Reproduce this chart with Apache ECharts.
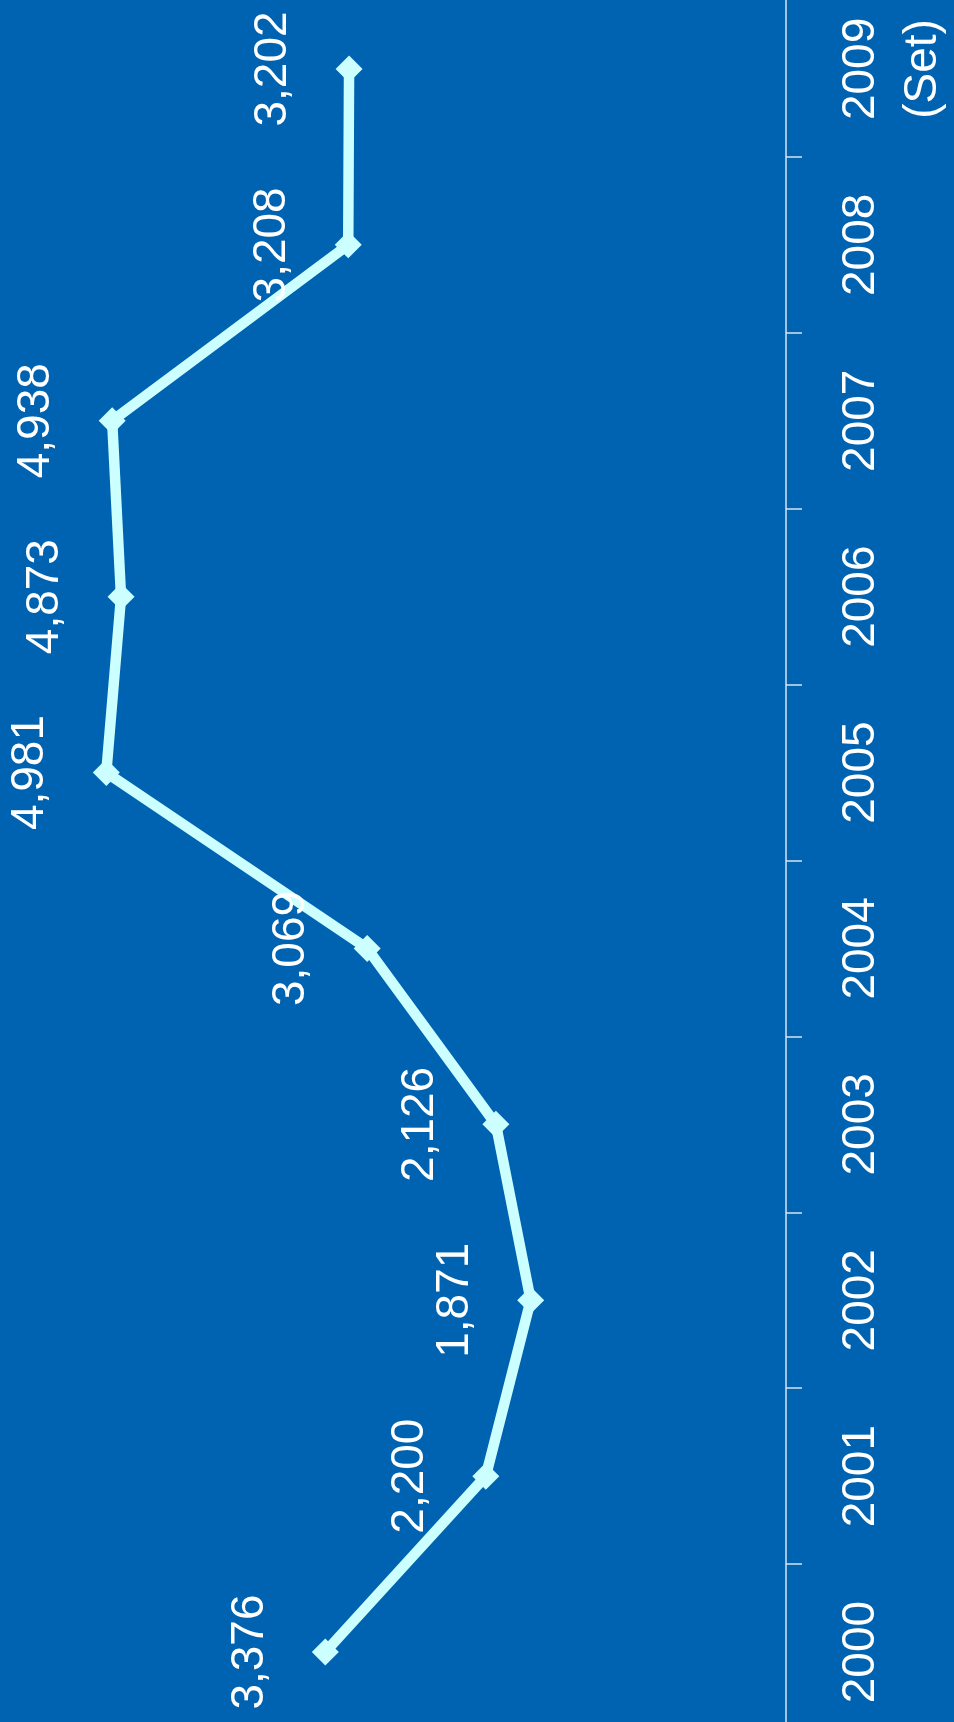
<!DOCTYPE html>
<html>
<head>
<meta charset="utf-8">
<script src="https://cdn.jsdelivr.net/npm/echarts@6/dist/echarts.min.js"></script>
<style>
  html, body { margin: 0; padding: 0; background: #0063b1; overflow: hidden; width: 954px; height: 1722px; }
  /* the plot runs a little past the top and bottom edges of the picture */
  #chart { position: absolute; left: 0; top: -19px; width: 954px; height: 1759px; }
</style>
</head>
<body>
<div id="chart"></div>
<script>
var years = ["2000", "2001", "2002", "2003", "2004", "2005", "2006", "2007", "2008", "2009\n(Set)"];
var values = [3376, 2200, 1871, 2126, 3069, 4981, 4873, 4938, 3208, 3202];

function fmt(v) {
  return String(v).replace(/\B(?=(\d{3})+(?!\d))/g, ",");
}

var dom = document.getElementById("chart");
var myChart = echarts.init(dom, null, { renderer: "canvas" });

var option = {
  backgroundColor: "#0063b1",
  animation: false,
  textStyle: { fontFamily: "Liberation Sans, Arial, sans-serif" },
  grid: { left: 0, right: 161, top: 0, bottom: 0 },
  xAxis: {
    type: "value",
    inverse: true,
    min: 0,
    max: 5760,
    show: false
  },
  yAxis: {
    type: "category",
    position: "right",
    data: years,
    axisLine: { show: true, lineStyle: { color: "#d8e4f0", width: 1.5 } },
    axisTick: { show: true, length: 16, inside: false, lineStyle: { color: "#d8e4f0", width: 1.5 } },
    axisLabel: {
      rotate: 90,
      margin: 44,
      color: "#ffffff",
      fontSize: 46,
      lineHeight: 62,
      fontFamily: "Liberation Sans, Arial, sans-serif"
    },
    splitLine: { show: false }
  },
  series: [
    {
      type: "line",
      data: values,
      symbol: "diamond",
      symbolSize: 27,
      itemStyle: { color: "#ccffff" },
      lineStyle: { color: "#ccffff", width: 10.5 },
      label: {
        show: true,
        position: "left",
        distance: 62,
        rotate: 90,
        align: "center",
        verticalAlign: "middle",
        color: "#ffffff",
        fontSize: 46,
        fontFamily: "Liberation Sans, Arial, sans-serif",
        formatter: function (p) { return fmt(p.value); }
      }
    }
  ]
};

myChart.setOption(option);
window.addEventListener("resize", myChart.resize);
</script>
</body>
</html>
